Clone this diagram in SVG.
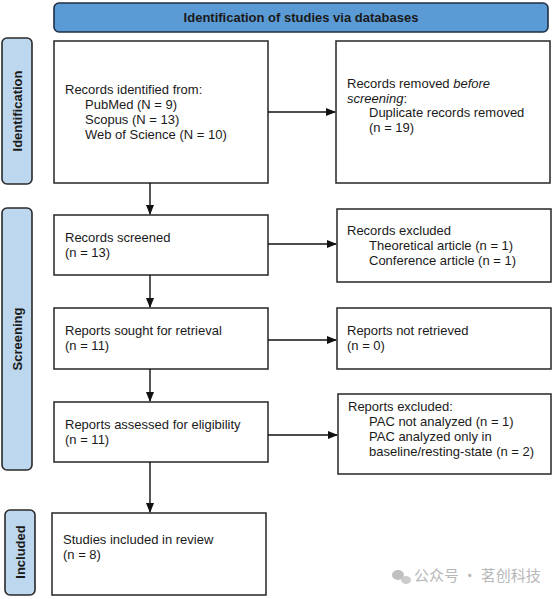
<svg xmlns="http://www.w3.org/2000/svg" width="554" height="599" viewBox="0 0 554 599">
<style>
.box{fill:#fff;stroke:#333;stroke-width:1.6}
.side{fill:#bdd7ee;stroke:#2a2a2a;stroke-width:1.6}
.t{font-family:"Liberation Sans",Arial,sans-serif;font-size:13px;fill:#1a1a1a}
.b{font-family:"Liberation Sans",Arial,sans-serif;font-size:13px;font-weight:bold;fill:#1a1a1a}
.c{stroke:#111;stroke-width:1.4;fill:none;marker-end:url(#ah)}
.wm{font-family:"Noto Sans CJK SC",sans-serif;font-size:15px;fill:#b8b8b8}
</style>
<defs>
<marker id="ah" markerWidth="10" markerHeight="8" refX="9" refY="4" orient="auto" markerUnits="userSpaceOnUse">
<path d="M0,0 L10,4 L0,8 Z" fill="#111"/>
</marker>
</defs>
<rect width="554" height="599" fill="#fff"/>
<g id="banner">
<rect x="54" y="3" width="494" height="29" rx="5" fill="#5b9bd5" stroke="#1f2f44" stroke-width="1.6"/>
<text class="b" x="301" y="22" text-anchor="middle">Identification of studies via databases</text>
</g>
<g id="label-identification">
<rect class="side" x="2" y="38" width="30" height="146" rx="5"/>
<text class="b" transform="translate(21.5,111) rotate(-90)" text-anchor="middle">Identification</text>
</g>
<g id="label-screening">
<rect class="side" x="2" y="208" width="30" height="262" rx="5"/>
<text class="b" transform="translate(21.5,339) rotate(-90)" text-anchor="middle">Screening</text>
</g>
<g id="label-included">
<rect class="side" x="5" y="510" width="30" height="85" rx="5"/>
<text class="b" transform="translate(24.5,552) rotate(-90)" text-anchor="middle">Included</text>
</g>
<g id="records-identified">
<rect class="box" x="54" y="41" width="214" height="142"/>
<text class="t" x="65" y="94">Records identified from:</text>
<text class="t" x="85" y="109">PubMed (N = 9)</text>
<text class="t" x="85" y="124">Scopus (N = 13)</text>
<text class="t" x="85" y="139">Web of Science (N = 10)</text>
</g>
<g id="records-removed">
<rect class="box" x="336" y="41" width="214" height="142"/>
<text class="t" x="347" y="88">Records removed <tspan font-style="italic">before</tspan></text>
<text class="t" x="347" y="103"><tspan font-style="italic">screening</tspan>:</text>
<text class="t" x="369" y="117">Duplicate records removed</text>
<text class="t" x="369" y="132">(n = 19)</text>
</g>
<g id="records-screened">
<rect class="box" x="54" y="215" width="214" height="60"/>
<text class="t" x="65" y="242">Records screened</text>
<text class="t" x="65" y="257">(n = 13)</text>
</g>
<g id="records-excluded">
<rect class="box" x="337" y="209" width="214" height="73"/>
<text class="t" x="347" y="235">Records excluded</text>
<text class="t" x="369" y="250">Theoretical article (n = 1)</text>
<text class="t" x="369" y="265">Conference article (n = 1)</text>
</g>
<g id="reports-sought">
<rect class="box" x="54" y="308" width="214" height="61"/>
<text class="t" x="65" y="335">Reports sought for retrieval</text>
<text class="t" x="65" y="350">(n = 11)</text>
</g>
<g id="reports-not-retrieved">
<rect class="box" x="337" y="308" width="214" height="61"/>
<text class="t" x="347" y="335">Reports not retrieved</text>
<text class="t" x="347" y="350">(n = 0)</text>
</g>
<g id="reports-assessed">
<rect class="box" x="54" y="402" width="214" height="60"/>
<text class="t" x="65" y="429">Reports assessed for eligibility</text>
<text class="t" x="65" y="444">(n = 11)</text>
</g>
<g id="reports-excluded">
<rect class="box" x="338" y="394" width="213" height="80"/>
<text class="t" x="348" y="411">Reports excluded:</text>
<text class="t" x="369" y="426">PAC not analyzed (n = 1)</text>
<text class="t" x="369" y="441">PAC analyzed only in</text>
<text class="t" x="369" y="456">baseline/resting-state (n = 2)</text>
</g>
<g id="studies-included">
<rect class="box" x="52" y="513" width="214" height="82"/>
<text class="t" x="63" y="544">Studies included in review</text>
<text class="t" x="63" y="559">(n = 8)</text>
</g>
<g id="connectors">
<line class="c" x1="268" y1="112" x2="335" y2="112"/>
<line class="c" x1="150" y1="183" x2="150" y2="214"/>
<line class="c" x1="268" y1="244" x2="336" y2="244"/>
<line class="c" x1="150" y1="275" x2="150" y2="307"/>
<line class="c" x1="268" y1="340" x2="336" y2="340"/>
<line class="c" x1="150" y1="369" x2="150" y2="401"/>
<line class="c" x1="268" y1="435" x2="337" y2="435"/>
<line class="c" x1="150" y1="462" x2="150" y2="512"/>
</g>
<g id="watermark">
<ellipse cx="398" cy="575" rx="6" ry="5" fill="#c0c0c0"/>
<ellipse cx="406" cy="580" rx="5" ry="4" fill="#cccccc"/>
<text class="wm" x="414" y="581">公众号 · 茗创科技</text>
</g>
</svg>
